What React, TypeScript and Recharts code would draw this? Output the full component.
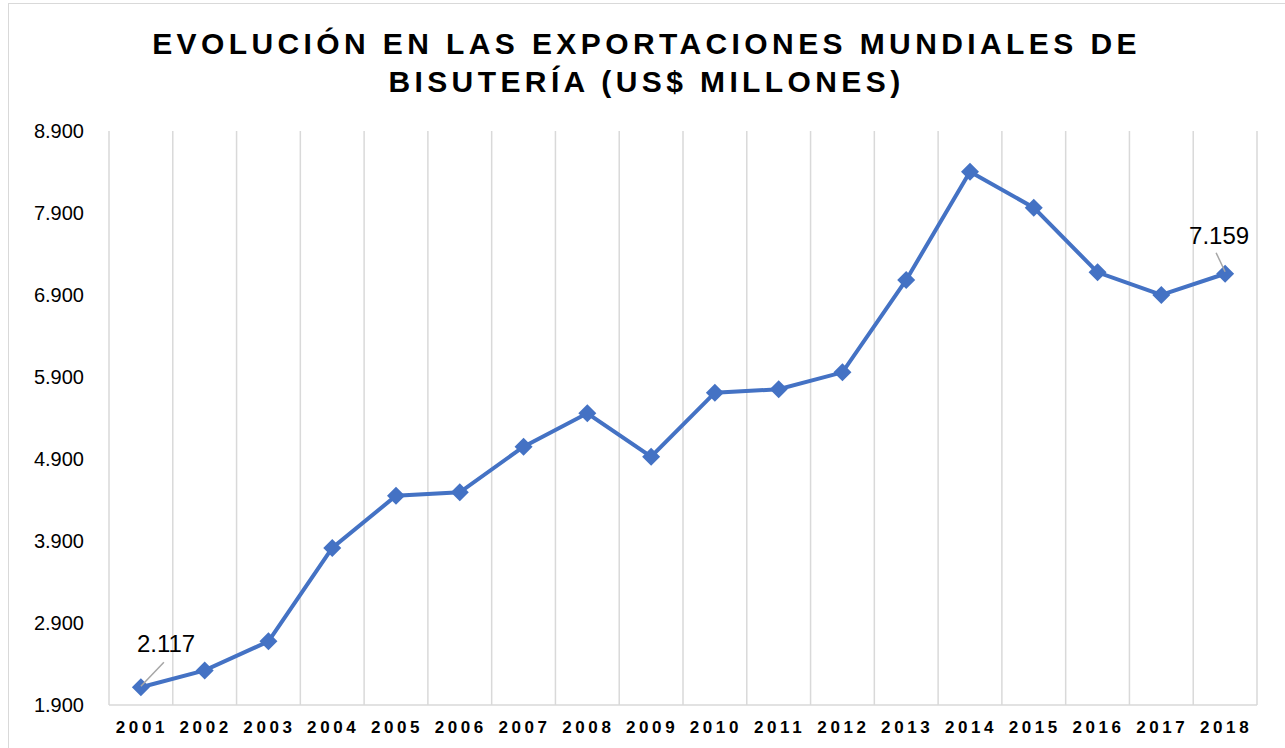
import React from 'react';
import { LineChart, Line, XAxis, YAxis, CartesianGrid, LabelList } from 'recharts';

const years = [
  '2001', '2002', '2003', '2004', '2005', '2006', '2007', '2008', '2009',
  '2010', '2011', '2012', '2013', '2014', '2015', '2016', '2017', '2018',
];
const exports = [
  2117, 2322, 2676, 3815, 4452, 4494, 5050, 5457, 4928,
  5709, 5750, 5957, 7083, 8404, 7965, 7177, 6900, 7159,
];
const yTicks = [1900, 2900, 3900, 4900, 5900, 6900, 7900, 8900];

const data = years.map((year, i) => ({ year, value: exports[i] }));

const BLUE = '#4472C4';
const GRID = '#D9D9D9';
const FONT = "'Liberation Sans', Arial, sans-serif";

const fmt = (v: number) => String(v).replace(/\B(?=(\d{3})+(?!\d))/g, '.');

const YTick = (props: any) => {
  const { y, payload } = props;
  return (
    <text x={84} y={y + 7} textAnchor="end" fontSize={20} fill="#000" fontFamily={FONT}>
      {fmt(payload.value)}
    </text>
  );
};

const XTick = (props: any) => {
  const { x, payload } = props;
  return (
    <text
      x={x + 1}
      y={733}
      textAnchor="middle"
      fontSize={17}
      fontWeight="bold"
      letterSpacing={3.6}
      fill="#000"
      fontFamily={FONT}
    >
      {payload.value}
    </text>
  );
};

const Diamond = (props: any) => {
  const { cx, cy, index } = props;
  const r = 9;
  return (
    <path
      key={`d-${index}`}
      d={`M${cx},${cy - r} L${cx + r},${cy} L${cx},${cy + r} L${cx - r},${cy} Z`}
      fill={BLUE}
    />
  );
};

// only first and last point carry a label, with a small grey leader line
const EndLabel = (props: any) => {
  const { x, y, index, value } = props;
  if (index === 0) {
    return (
      <g>
        <line x1={x + 23} y1={y - 25} x2={x} y2={y - 1} stroke="#A6A6A6" strokeWidth={1.5} />
        <text x={x - 4} y={y - 35} fontSize={24} fill="#000" fontFamily={FONT}>
          {fmt(value)}
        </text>
      </g>
    );
  }
  if (index === exports.length - 1) {
    return (
      <g>
        <line x1={x - 9} y1={y - 21} x2={x} y2={y - 2} stroke="#A6A6A6" strokeWidth={1.5} />
        <text x={x - 6} y={y - 30} textAnchor="middle" fontSize={24} fill="#000" fontFamily={FONT}>
          {fmt(value)}
        </text>
      </g>
    );
  }
  return null;
};

export default function App() {
  return (
    <div
      style={{
        position: 'absolute',
        left: 0,
        top: 0,
        width: 1285,
        height: 748,
        overflow: 'hidden',
        background: '#fff',
        fontFamily: FONT,
      }}
    >
      <div
        style={{
          position: 'absolute',
          left: 8,
          top: 3,
          width: 1300,
          height: 800,
          border: `1px solid ${GRID}`,
        }}
      />
      <div
        style={{
          position: 'absolute',
          left: 4,
          top: 25,
          width: 1285,
          textAlign: 'center',
          fontSize: 30,
          lineHeight: '38px',
          fontWeight: 'bold',
          letterSpacing: 4.4,
          color: '#000',
        }}
      >
        <div>EVOLUCIÓN EN LAS EXPORTACIONES MUNDIALES DE</div>
        <div>BISUTERÍA (US$ MILLONES)</div>
      </div>
      <div style={{ position: 'absolute', left: 0, top: 0 }}>
        <LineChart
          width={1285}
          height={748}
          data={data}
          margin={{ top: 131, right: 28, left: 0, bottom: 0 }}
        >
          <CartesianGrid
            horizontal={false}
            stroke={GRID}
            strokeWidth={1.5}
            verticalCoordinatesGenerator={({ offset }: any) =>
              Array.from(
                { length: years.length + 1 },
                (_, i) => offset.left + (i * offset.width) / years.length
              )
            }
          />
          <XAxis
            dataKey="year"
            height={43}
            padding={{ left: 31.9, right: 31.9 }}
            axisLine={{ stroke: GRID, strokeWidth: 1.5 }}
            tickLine={false}
            interval={0}
            tick={<XTick />}
          />
          <YAxis
            width={109}
            domain={[1900, 8900]}
            ticks={yTicks}
            axisLine={false}
            tickLine={false}
            tick={<YTick />}
          />
          <Line
            type="linear"
            dataKey="value"
            stroke={BLUE}
            strokeWidth={4}
            dot={Diamond}
            activeDot={false}
            isAnimationActive={false}
          >
            <LabelList dataKey="value" content={EndLabel} />
          </Line>
        </LineChart>
      </div>
    </div>
  );
}
